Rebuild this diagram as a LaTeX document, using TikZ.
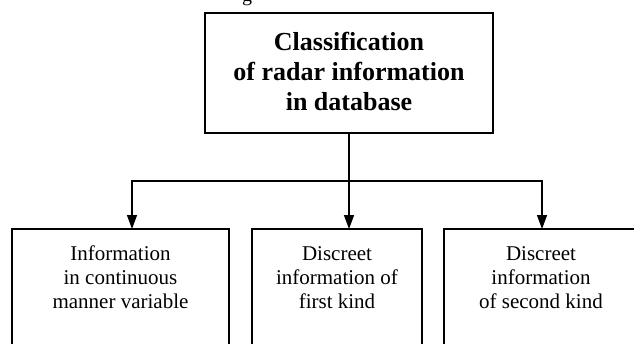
\documentclass[tikz,border=0pt]{standalone}
\usepackage{fontspec}
\setmainfont{Liberation Serif}
\usetikzlibrary{arrows.meta}
\begin{document}
\begin{tikzpicture}[x=1pt,y=-1pt,
  box/.style={draw,line width=1.6pt,inner sep=0pt,outer sep=0pt},
  conn/.style={line width=1.5pt,-{Triangle[length=14pt,width=10pt]}},
  toptext/.style={font=\fontsize{26}{30}\selectfont\bfseries,align=center,inner sep=0pt,anchor=north},
  subtext/.style={font=\fontsize{21}{24}\selectfont,align=center,inner sep=0pt,anchor=north}]
\useasboundingbox (0,0) rectangle (634,343);
\clip (0,0) rectangle (634,343);
\node[font=\fontsize{20}{24}\selectfont,anchor=base,inner sep=0pt] (cap) at (247,1) {g};
\node[box,minimum width=288pt,minimum height=120pt] (top) at (349,73) {};
\node[toptext] (toptxt) at (349,31.5) {Classification\\of radar information\\in database};
\node[box,minimum width=217pt,minimum height=141pt] (b1) at (120.5,299.5) {};
\node[box,minimum width=170pt,minimum height=141pt] (b2) at (337,299.5) {};
\node[box,minimum width=196pt,minimum height=141pt] (b3) at (542,299.5) {};
\node[subtext] (t1) at (120.5,246) {Information\\in continuous\\manner variable};
\node[subtext] (t2) at (337,246) {Discreet\\information of\\first kind};
\node[subtext] (t3) at (541,246) {Discreet\\information\\of second kind};
\coordinate (j) at (349,181);
\coordinate (a1) at (132,181);
\coordinate (a3) at (542,181);
\draw[conn] (top.south) -- (top.south |- b2.north);
\draw[conn] (j) -| (a1 |- b1.north);
\draw[conn] (j) -| (a3 |- b3.north);
\end{tikzpicture}
\end{document}
